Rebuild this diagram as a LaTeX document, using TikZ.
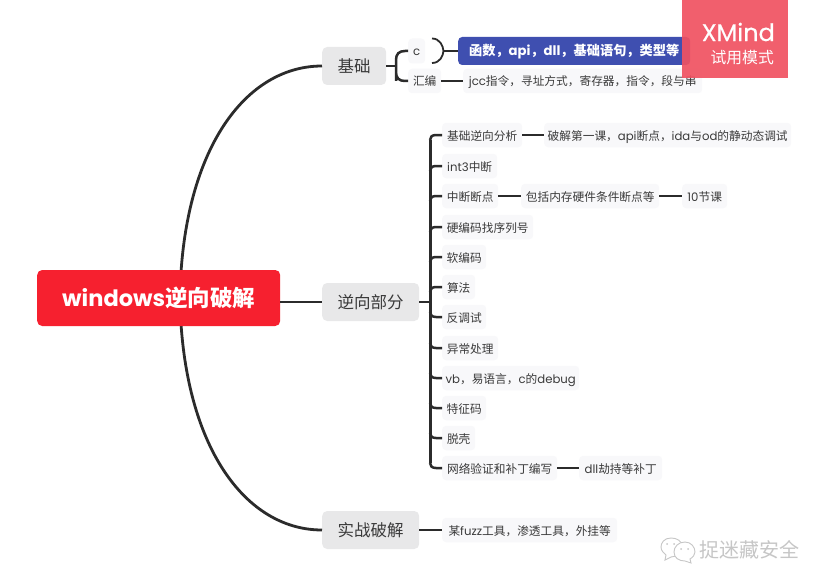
\documentclass[tikz,border=0pt]{standalone}
\usepackage{fontspec}
\setmainfont{Noto Sans CJK SC}
\newfontfamily\latf{Poppins}
\newfontfamily\latm[FakeBold=0.5]{Poppins}
\newcommand{\en}[1]{{\latf #1}}
\definecolor{ink}{HTML}{2B2B2B}
\definecolor{txt}{HTML}{3A3A3A}
\definecolor{leaffill}{HTML}{F8F8FA}
\definecolor{mainfill}{HTML}{E8E8E9}
\definecolor{rootred}{HTML}{F6202F}
\definecolor{blueleaf}{HTML}{3F4FB0}
\definecolor{xred}{HTML}{F05261}
\definecolor{wm}{HTML}{C6C6C6}
\tikzset{
  leaf/.style={draw=none,fill=leaffill,rounded corners=4pt,inner sep=0pt,minimum height=24.5pt,anchor=west,text=txt,text height=11pt,text depth=1pt,font=\fontsize{11.7}{14}\selectfont},
  mainnode/.style={draw=none,fill=mainfill,rounded corners=5pt,inner sep=0pt,minimum height=38pt,anchor=west,text=txt,text height=15pt,text depth=2pt,font=\fontsize{16.5}{20}\selectfont},
  conn/.style={draw=ink,line width=2.5pt},
  trunk/.style={draw=ink,line width=2.8pt}
}
\newcommand{\twig}[2]{\draw[conn] (#1.west) -- ++(-6,0) .. controls +(-4,0) and +(0,#2*-3) .. ++(-6,#2*5);}
\begin{document}
\begin{tikzpicture}[x=1pt,y=-1pt]
\useasboundingbox (0,0) rectangle (828,586);
\fill[white] (0,0) rectangle (828,586);
% trunks behind root
\coordinate (tA) at (181,272);
\coordinate (tC) at (181,324);
% main nodes
\node[mainnode,minimum width=64pt] (base) at (322,66) {基础};
\node[mainnode,minimum width=97pt] (rev) at (322,302) {逆向部分};
\node[mainnode,minimum width=97pt] (war) at (322,530) {实战破解};
\draw[trunk] (tA) .. controls (190,140) and (250,66) .. (base.west);
\draw[trunk] (tC) .. controls (190,456) and (250,530) .. (war.west);
\node[draw=none,fill=rootred,rounded corners=5pt,inner sep=0pt,minimum width=243pt,minimum height=56pt,anchor=west,text=white,font=\fontsize{22.5}{28}\selectfont\bfseries] (root) at (37,298) {\en{windows}逆向破解};
\draw[trunk] (root.east |- rev.west) -- (rev.west);
% basics
\node[leaf,minimum width=17pt,minimum height=25pt] (c) at (408,51) {\en{c}};
\node[leaf,minimum width=33pt] (asm) at (408,81) {汇编};
\node[leaf,draw=none,fill=blueleaf,text=white,minimum width=232pt,minimum height=28pt,font=\fontsize{13.2}{16}\selectfont\bfseries] (cd) at (458,51) {函数，\en{api}，\en{dll}，基础语句，类型等};
\node[leaf,minimum width=239pt] (jcc) at (463,81) {\en{jcc}指令，寻址方式，寄存器，指令，段与串};
\coordinate (bs) at (396,66);
\draw[conn] (base.east) -- (bs);
\draw[conn] (c.west) -- ++(-3,0) .. controls +(-6,0) and +(0,-6) .. ++(-9,9) -- (bs |- asm.west) ++(0,-9) .. controls +(0,6) and +(-6,0) .. ++(9,9) -- (asm.west);
\draw[conn,line width=1.8pt] (432,38.5) .. controls (440,38.5) and (443,46) .. (443.5,51) .. controls (443,56) and (440,63) .. (432,63);
\draw[conn,line width=1.5pt] (443.5,51) -- (cd.west);
\draw[conn] (asm.east) -- (jcc.west);
% reversing list
\node[leaf,minimum width=80pt] (a1) at (442,135) {基础逆向分析};
\node[leaf,minimum width=247pt] (a1b) at (544,135) {破解第一课，\en{api}断点，\en{ida}与\en{od}的静动态调试};
\node[leaf,minimum width=55pt] (a2) at (442,166) {\en{int3}中断};
\node[leaf,minimum width=56pt] (a3) at (442,196) {中断断点};
\node[leaf,minimum width=138pt] (a3b) at (521,196) {包括内存硬件条件断点等};
\node[leaf,minimum width=45pt] (a3c) at (682,196) {\en{10}节课};
\node[leaf,minimum width=91pt] (a4) at (442,227) {硬编码找序列号};
\node[leaf,minimum width=44pt] (a5) at (442,257) {软编码};
\node[leaf,minimum width=33pt] (a6) at (442,287) {算法};
\node[leaf,minimum width=44pt] (a7) at (442,317) {反调试};
\node[leaf,minimum width=56pt] (a8) at (442,348) {异常处理};
\node[leaf,minimum width=137pt] (a9) at (442,378) {\en{vb}，易语言，\en{c}的\en{debug}};
\node[leaf,minimum width=44pt] (a10) at (442,408) {特征码};
\node[leaf,minimum width=33pt] (a11) at (442,438) {脱壳};
\node[leaf,minimum width=115pt] (a12) at (442,468) {网络验证和补丁编写};
\node[leaf,minimum width=83pt] (a12b) at (579,468) {\en{dll}劫持等补丁};
\node[leaf,minimum width=175pt] (w1) at (442,530) {某\en{fuzz}工具，渗透工具，外挂等};
\coordinate (sp) at (430,302);
\draw[conn] (rev.east) -- (sp);
\draw[conn,line width=3pt] (430,140) -- (430,463);
\twig{a1}{1}\twig{a2}{1}\twig{a3}{1}\twig{a4}{1}\twig{a5}{1}\twig{a6}{1}
\twig{a7}{-1}\twig{a8}{-1}\twig{a9}{-1}\twig{a10}{-1}\twig{a11}{-1}\twig{a12}{-1}
\draw[conn] (a1.east) -- (a1b.west);
\draw[conn] (a3.east) -- (a3b.west);
\draw[conn] (a3b.east) -- (a3c.west);
\draw[conn] (a12.east) -- (a12b.west);
\draw[conn] (war.east) -- (w1.west);
% trial badge
\fill[xred,fill opacity=.92] (682,0) rectangle (788,78);
\node[inner sep=0pt,text=white,anchor=east,font=\fontsize{24}{28}\selectfont\latm] (xm) at (775,32) {XMind};
\node[inner sep=0pt,text=white,anchor=east,font=\fontsize{15.8}{18}\selectfont] (xt) at (774,58) {试用模式};
% watermark
\draw[wm,line width=.9pt,fill=white] (671,538) .. controls (664,538) and (661,543) .. (661,547) .. controls (661,551) and (664,553) .. (666,555) -- (665,560) -- (671,557) .. controls (676,557) and (682,553) .. (682,546) .. controls (682,541) and (677,538) .. (671,538) -- cycle;
\draw[wm,line width=.9pt,fill=white] (685,542) .. controls (678,542) and (674,547) .. (674,552) .. controls (674,558) and (679,561) .. (685,561) -- (691,563) -- (690,559) .. controls (693,557) and (695,555) .. (695,552) .. controls (695,547) and (691,542) .. (685,542) -- cycle;
\fill[wm] (667,544) circle (1pt) (674,544) circle (1pt) (681,549) circle (1pt) (688,549) circle (1pt);
\node[inner sep=0pt,text=wm,anchor=west,font=\fontsize{20}{24}\selectfont] (wmk) at (699,550) {捉迷藏安全};
\end{tikzpicture}
\end{document}
